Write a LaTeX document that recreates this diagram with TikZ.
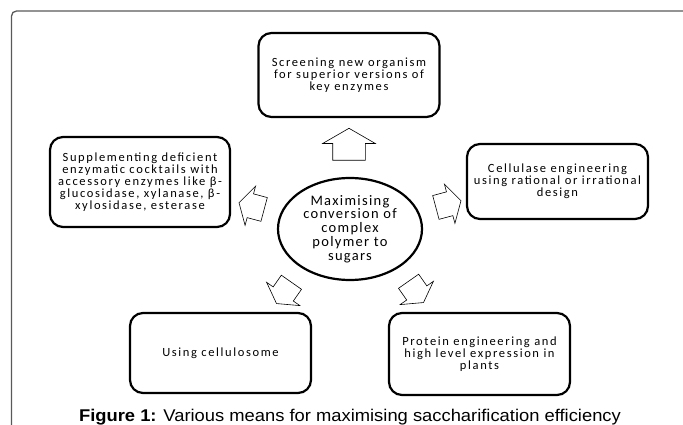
\documentclass[tikz,border=0pt]{standalone}
\usepackage{fontspec}
\newfontfamily\boxfont[LetterSpace=13]{Carlito}
\newfontfamily\hubfont[LetterSpace=9]{Carlito}
\newfontfamily\capfont{Liberation Sans}
\usetikzlibrary{shapes.geometric, shapes.arrows}

\begin{document}
\begin{tikzpicture}[
    x=1pt, y=-1pt,
    box/.style        = {rectangle, rounded corners=13pt, draw, line width=2.2pt,
                         minimum width=181pt, align=center, inner sep=2pt,
                         font=\boxfont\fontsize{12.5}{12}\selectfont},
    hub/.style        = {ellipse, draw, line width=2.2pt, minimum width=144pt,
                         minimum height=102pt, inner sep=0pt, align=center,
                         font=\hubfont\fontsize{14.5}{13.75}\selectfont},
    blockarrow/.style = {single arrow, draw, line width=0.6pt, fill=white,
                         minimum height=32pt, inner xsep=0pt, inner ysep=16pt,
                         single arrow head extend=10pt, single arrow tip angle=120},
    smallarrow/.style = {blockarrow, minimum height=26pt, inner ysep=12pt,
                         single arrow head extend=8pt},
]
\useasboundingbox (0,0) rectangle (683,425);
\clip (0,0) rectangle (683,425);

% outer frame
\draw[black!65, line width=1.3pt, rounded corners=5pt] (11.5,440) |- (700,11);

\node[hub] (hub) at (350,229) {Maximising\\conversion of\\complex\\polymer to\\sugars};

\node[box, minimum height=84pt] (screen) at (349,75)
    {Screening new organism\\for superior versions of\\key enzymes};
\node[box, minimum height=90pt, minimum width=180pt] (suppl) at (140,182)
    {Supplementing deficient\\enzymatic cocktails with\\accessory enzymes like β-\\glucosidase, xylanase, β-\\xylosidase, esterase};
\node[box, minimum height=75pt] (cellul) at (557.5,181.5)
    {Cellulase engineering\\using rational or irrational\\design};
\node[box, minimum height=80pt] (cellsome) at (220.5,353) {Using cellulosome};
\node[box, minimum height=82pt] (protein) at (479.5,354)
    {Protein engineering and\\high level expression in\\plants};

% block arrows from the hub
\node[blockarrow, rotate=90]  (toscreen)   at (349,149) {};
\node[smallarrow, rotate=165] (tosuppl)    at (255,207) {};
\node[smallarrow, rotate=15]  (tocellul)   at (445,205) {};
\node[smallarrow, rotate=235] (tocellsome) at (286,290) {};
\node[smallarrow, rotate=305] (toprotein)  at (414,289) {};

\node[anchor=base, font=\capfont\fontsize{17}{18}\selectfont] (caption) at (350,421)
    {\scalebox{1.08}[1]{\textbf{Figure 1:} Various means for maximising saccharification efficiency}};

\end{tikzpicture}
\end{document}
